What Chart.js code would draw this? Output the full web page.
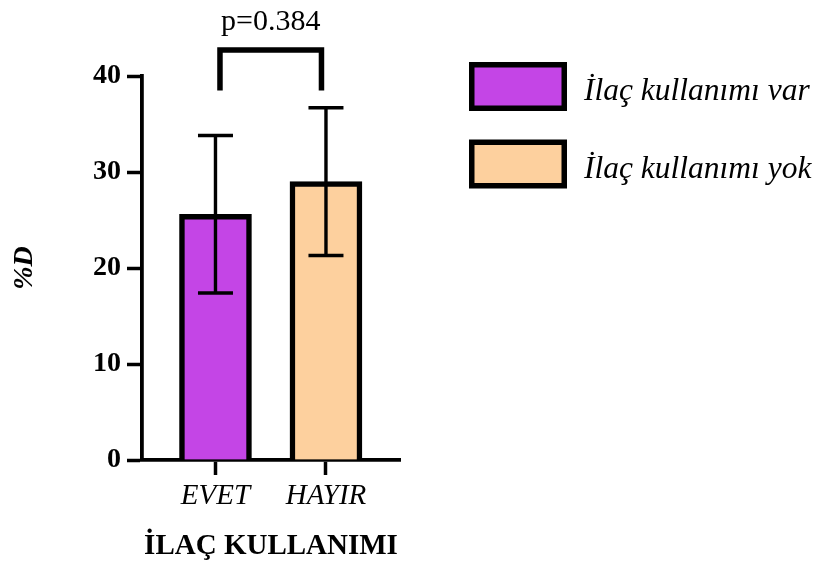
<!DOCTYPE html>
<html>
<head>
<meta charset="utf-8">
<script src="https://cdn.jsdelivr.net/npm/chart.js@4"></script>
<style>
  html, body { margin: 0; padding: 0; background: #ffffff; }
  #wrap { width: 821px; height: 562px; }
</style>
</head>
<body>
<div id="wrap"><canvas id="c" width="821" height="562"></canvas></div>
<script>
// Groups on the x axis and the two series
const categories = ['EVET', 'HAYIR'];
const seriesNames = ['İlaç kullanımı var', 'İlaç kullanımı yok'];
const meanValues = [25.6, 29.0];
const errorValues = [8.2, 7.7];
const yTickValues = [0, 10, 20, 30, 40];
const pValueLabel = 'p=0.384';

const seriesColors = ['#C445E6', '#FDD09E'];
const SERIF = "'Liberation Serif', 'Times New Roman', serif";

// Mean ± error whiskers for each bar
const errorBarPlugin = {
  id: 'errorBars',
  afterDatasetsDraw(chart) {
    const ctx = chart.ctx;
    const xs = chart.scales.x, ys = chart.scales.y;
    ctx.save();
    ctx.strokeStyle = '#000';
    ctx.lineWidth = 3.4;
    ctx.lineCap = 'butt';
    meanValues.forEach((m, i) => {
      const cx = xs.getPixelForValue(i);
      const yHi = ys.getPixelForValue(m + errorValues[i]);
      const yLo = ys.getPixelForValue(m - errorValues[i]);
      const half = 17.5;
      ctx.beginPath();
      ctx.moveTo(cx, yHi); ctx.lineTo(cx, yLo);
      ctx.moveTo(cx - half, yHi); ctx.lineTo(cx + half, yHi);
      ctx.moveTo(cx - half, yLo); ctx.lineTo(cx + half, yLo);
      ctx.stroke();
    });
    ctx.restore();
  }
};

// Significance bracket between the two groups
const bracketPlugin = {
  id: 'bracket',
  afterDraw(chart) {
    const ctx = chart.ctx;
    const xs = chart.scales.x, ys = chart.scales.y;
    const inset = 4.5;
    const x0 = xs.getPixelForValue(0) + inset;
    const x1 = xs.getPixelForValue(1) - inset;
    const yTop = ys.getPixelForValue(42.7);
    const yFoot = ys.getPixelForValue(38.5);
    ctx.save();
    ctx.strokeStyle = '#000';
    ctx.lineWidth = 5.5;
    ctx.lineJoin = 'miter';
    ctx.lineCap = 'butt';
    ctx.beginPath();
    ctx.moveTo(x0, yFoot);
    ctx.lineTo(x0, yTop);
    ctx.lineTo(x1, yTop);
    ctx.lineTo(x1, yFoot);
    ctx.stroke();
    ctx.fillStyle = '#000';
    ctx.font = '30px ' + SERIF;
    ctx.textAlign = 'center';
    ctx.textBaseline = 'alphabetic';
    ctx.fillText(pValueLabel, (x0 + x1) / 2, yTop - 20);
    ctx.restore();
  }
};

// Legend with large outlined swatches to the right of the plot
const legendPlugin = {
  id: 'sideLegend',
  afterDraw(chart) {
    const ctx = chart.ctx;
    const boxX = 469, boxW = 98, boxH = 49, border = 5.5;
    const rows = [62, 139.5];
    ctx.save();
    chart.data.datasets.forEach((ds, i) => {
      const by = rows[i];
      ctx.fillStyle = '#000';
      ctx.fillRect(boxX, by, boxW, boxH);
      ctx.fillStyle = ds.backgroundColor;
      ctx.fillRect(boxX + border, by + border, boxW - 2 * border, boxH - 2 * border);
      ctx.fillStyle = '#000';
      ctx.font = 'italic 31.5px ' + SERIF;
      ctx.textAlign = 'left';
      ctx.textBaseline = 'alphabetic';
      ctx.fillText(ds.label, 584, by + 38);
    });
    ctx.restore();
  }
};

const datasets = seriesNames.map((name, i) => ({
  label: name,
  data: [{ x: i, y: meanValues[i] }],
  backgroundColor: seriesColors[i],
  borderColor: '#000',
  borderWidth: 5.5,
  grouped: false,
  maxBarThickness: 72,
  barPercentage: 1,
  categoryPercentage: 1
}));

new Chart(document.getElementById('c'), {
  type: 'bar',
  data: { datasets },
  plugins: [errorBarPlugin, bracketPlugin, legendPlugin],
  options: {
    responsive: false,
    animation: false,
    devicePixelRatio: 1,
    layout: { padding: { top: 76, right: 421, left: 0, bottom: 0 } },
    plugins: { legend: { display: false }, tooltip: { enabled: false } },
    scales: {
      x: {
        type: 'linear',
        min: -0.665,
        max: 1.67,
        offset: false,
        afterBuildTicks: s => { s.ticks = categories.map((c, i) => ({ value: i })); },
        afterFit: s => { s.height = 102; },
        ticks: {
          callback: v => categories[v],
          color: '#000',
          font: { family: SERIF, size: 29, style: 'italic' },
          padding: 4,
          maxRotation: 0,
          autoSkip: false
        },
        grid: {
          offset: false,
          drawOnChartArea: false,
          drawTicks: true,
          tickLength: 15,
          tickWidth: 3.5,
          tickColor: '#000'
        },
        border: { display: true, color: '#000', width: 3.8 },
        title: {
          display: true,
          text: 'İLAÇ KULLANIMI',
          color: '#000',
          font: { family: SERIF, size: 29, weight: 'bold', lineHeight: 1 },
          padding: { top: 1, bottom: 1 }
        }
      },
      y: {
        min: 0,
        max: 40,
        afterBuildTicks: s => { s.ticks = yTickValues.map(v => ({ value: v })); },
        afterFit: s => { s.width = 142; },
        ticks: {
          color: '#000',
          font: { family: SERIF, size: 28, weight: 'bold' },
          padding: 6
        },
        grid: {
          drawOnChartArea: false,
          drawTicks: true,
          tickLength: 15,
          tickWidth: 3.5,
          tickColor: '#000'
        },
        border: { display: true, color: '#000', width: 3.8 },
        title: {
          display: true,
          text: '%D',
          color: '#000',
          font: { family: SERIF, size: 28, weight: 'bold', style: 'italic', lineHeight: 1 },
          padding: { top: 11, bottom: 11 }
        }
      }
    }
  }
});
</script>
</body>
</html>
